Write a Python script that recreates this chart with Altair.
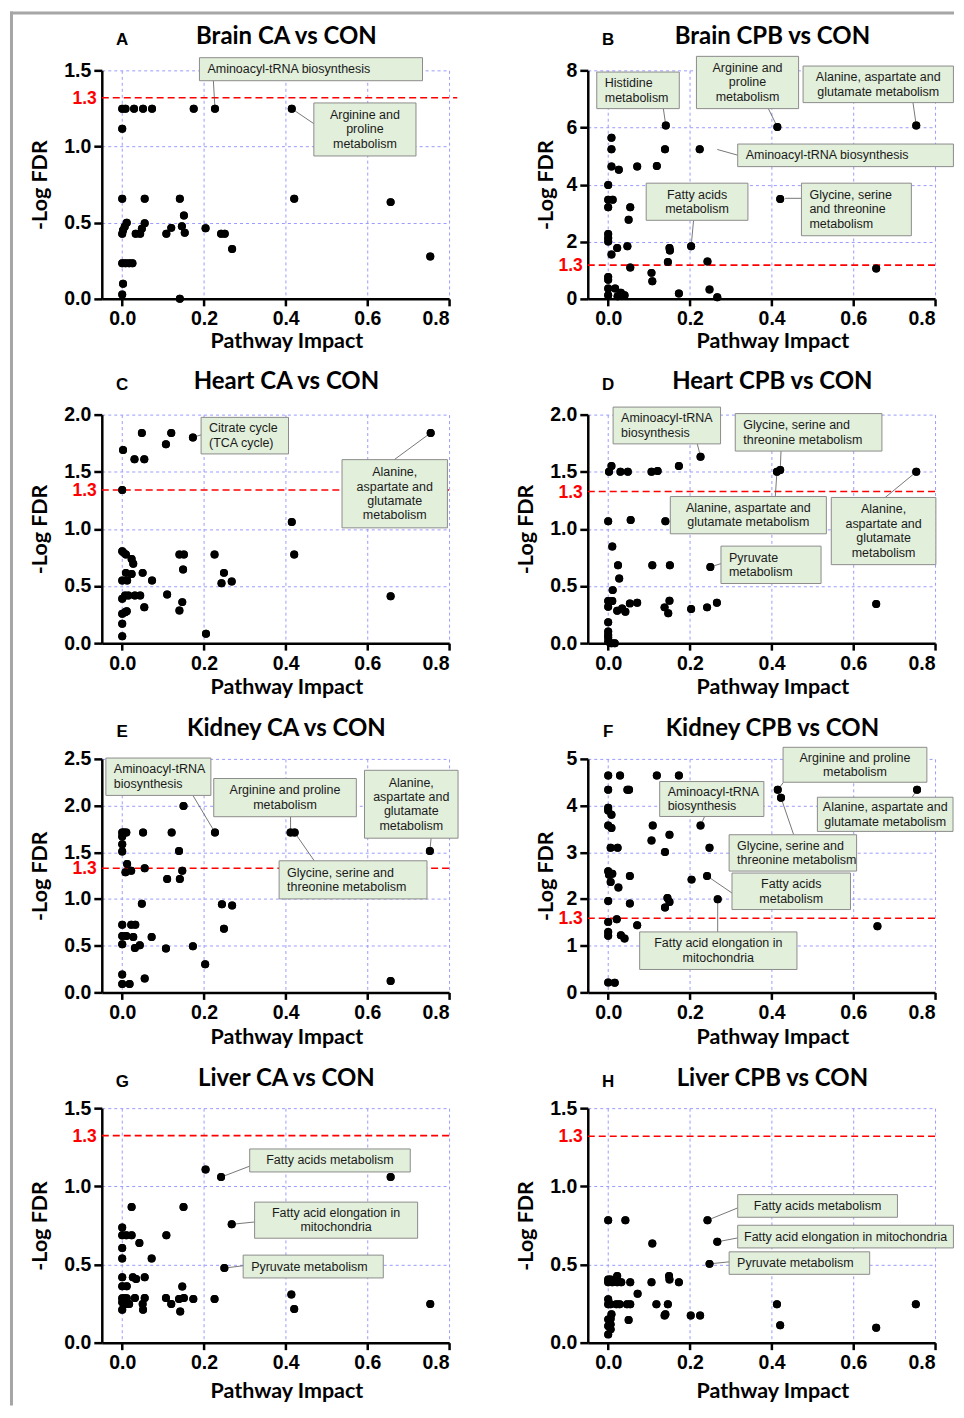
import altair as alt
import pandas as pd

# ---------------- data ----------------
brain_ca_x = [0, 0.008, 0.029, 0.051, 0.073, 0.175, 0.227, 0.415, 0, 0, 0.055, 0.141, 0.421, 0.657, 0.151,
              0, 0.002, 0.006, 0.011, 0.033, 0.044, 0.048, 0.055, 0.108, 0.12, 0.146, 0.153, 0.204, 0.242,
              0.251, 0.269, 0.754, 0, 0.008, 0.017, 0.025, 0.002, 0, 0.141]
brain_ca_y = [1.248, 1.248, 1.248, 1.248, 1.248, 1.248, 1.248, 1.248, 1.117, 0.657, 0.657, 0.657, 0.657, 0.635, 0.547,
              0.427, 0.45, 0.473, 0.5, 0.427, 0.427, 0.46, 0.497, 0.427, 0.466, 0.477, 0.434, 0.464, 0.427,
              0.427, 0.328, 0.278, 0.234, 0.234, 0.234, 0.234, 0.099, 0.028, 0.0]

brain_cpb_x = [0.141, 0.414, 0.754, 0.008, 0.008, 0.139, 0.224, 0.008, 0.026, 0.071, 0.119,
               0, 0, 0.011, 0, 0.054, 0.05, 0.421,
               0, 0, 0, 0.022, 0.008, 0.047, 0.054, 0.15, 0.151, 0.203, 0.146, 0.243, 0.106, 0.108, 0.656,
               0, 0, 0, 0.017, 0.031, 0.04, 0.023, 0, 0.173, 0.248, 0.267]
brain_cpb_y = [6.07, 6.02, 6.07, 5.64, 5.24, 5.24, 5.24, 4.63, 4.52, 4.63, 4.65,
               3.99, 3.47, 3.47, 3.21, 3.21, 2.77, 3.5,
               2.27, 2.13, 2.01, 1.78, 1.55, 1.84, 1.10, 1.78, 1.69, 1.84, 1.29, 1.31, 0.91, 0.62, 1.06,
               0.77, 0.67, 0.36, 0.36, 0.21, 0.13, 0.09, 0.13, 0.19, 0.33, 0.06]

heart_ca_x = [0.048, 0.12, 0.107, 0.173, 0.002, 0.03, 0.054, 0.755, 0,
              0.415, 0.421, 0.657, 0.205,
              0, 0.004, 0.009, 0.023, 0.027,
              0.009, 0.023, 0.05, 0, 0.012, 0.073,
              0, 0.007, 0.015, 0.031, 0.044, 0.11, 0.054,
              0, 0.007, 0.011, 0, 0,
              0.14, 0.151, 0.149, 0.147, 0.14,
              0.226, 0.249, 0.243, 0.268]
heart_ca_y = [1.84, 1.84, 1.74, 1.80, 1.69, 1.61, 1.61, 1.84, 1.34,
              1.06, 0.776, 0.411, 0.082,
              0.805, 0.79, 0.776, 0.737, 0.694,
              0.615, 0.606, 0.615, 0.548, 0.548, 0.548,
              0.388, 0.417, 0.417, 0.417, 0.417, 0.426, 0.315,
              0.257, 0.271, 0.28, 0.169, 0.061,
              0.776, 0.776, 0.644, 0.359, 0.286,
              0.776, 0.615, 0.525, 0.539]

heart_cpb_x = [0.226, 0.173, 0.002, 0.008, 0.03, 0.048, 0.106, 0.121, 0.413, 0.421, 0.754,
               0, 0.055, 0.14, 0.01, 0.024, 0.108, 0.151, 0.25, 0.027, 0.011,
               0, 0.01, 0, 0.022, 0.034, 0.042, 0.053, 0.071,
               0.138, 0.15, 0.147, 0.203, 0.242, 0.266, 0.656,
               0, 0, 0, 0, 0, 0.008, 0.016]
heart_cpb_y = [1.632, 1.551, 1.499, 1.551, 1.499, 1.499, 1.499, 1.507, 1.499, 1.516, 1.499,
               1.067, 1.078, 1.067, 0.846, 0.681, 0.681, 0.681, 0.667, 0.565, 0.464,
               0.368, 0.368, 0.319, 0.284, 0.304, 0.275, 0.348, 0.354,
               0.313, 0.371, 0.261, 0.299, 0.313, 0.354, 0.342,
               0.183, 0.101, 0.072, 0.049, 0.014, 0.0, 0.0]

kidney_ca_x = [0.15, 0.227, 0, 0.004, 0.01, 0, 0, 0, 0.051, 0.121, 0.139, 0.412, 0.422, 0.753,
               0.012, 0.008, 0.022, 0.055, 0.147, 0.11, 0.141,
               0.048, 0.244, 0.269, 0.249,
               0, 0.022, 0.032, 0, 0.01, 0.027, 0, 0.031, 0.043, 0.072, 0.107, 0.173, 0.203,
               0, 0, 0.018, 0.055, 0.657]
kidney_ca_y = [1.996, 1.712, 1.712, 1.712, 1.712, 1.669, 1.587, 1.509, 1.712, 1.712, 1.513, 1.712, 1.712, 1.513,
               1.374, 1.286, 1.303, 1.328, 1.303, 1.214, 1.214,
               0.948, 0.945, 0.93, 0.682,
               0.724, 0.724, 0.724, 0.604, 0.604, 0.593, 0.515, 0.476, 0.504, 0.593, 0.469, 0.494, 0.302,
               0.192, 0.089, 0.089, 0.149, 0.121]

kidney_cpb_x = [0, 0.029, 0.119, 0.173, 0, 0.047, 0.051, 0.415, 0.423, 0.756,
                0, 0, 0.008, 0, 0.008, 0.109, 0.226, 0.15, 0.106, 0.006, 0.023, 0.139, 0.248,
                0, 0.002, 0.01, 0.006, 0.053, 0.025, 0.204, 0.242,
                0, 0.053, 0.145, 0.15, 0.139, 0.268,
                0, 0.021, 0.071, 0, 0, 0.031, 0.04, 0.659,
                0, 0.016]
kidney_cpb_y = [4.644, 4.644, 4.644, 4.644, 4.338, 4.338, 4.338, 4.338, 4.167, 4.338,
                3.953, 3.896, 3.803, 3.575, 3.519, 3.575, 3.575, 3.376, 3.255, 3.098, 3.098, 3.006, 3.098,
                2.593, 2.521, 2.543, 2.365, 2.493, 2.244, 2.415, 2.493,
                1.959, 1.902, 2.023, 1.937, 1.816, 1.994,
                1.51, 1.567, 1.439, 1.296, 1.211, 1.225, 1.154, 1.417,
                0.214, 0.207]

liver_ca_x = [0.204, 0.242, 0.657, 0.023, 0.15, 0, 0, 0.01, 0.023, 0.108, 0.268, 0.042, 0, 0, 0.072, 0.25,
              0, 0.026, 0.034, 0.055, 0, 0.011, 0.147, 0, 0.006, 0.011, 0.031, 0.055, 0, 0.011, 0.017, 0,
              0.05, 0.051, 0.107, 0.12, 0.139, 0.151, 0.174, 0.142, 0.226, 0.414, 0.421, 0.754]
liver_ca_y = [1.108, 1.059, 1.059, 0.868, 0.868, 0.736, 0.687, 0.687, 0.687, 0.687, 0.757, 0.637, 0.605, 0.539, 0.539, 0.477,
              0.418, 0.418, 0.407, 0.418, 0.361, 0.361, 0.359, 0.284, 0.284, 0.284, 0.286, 0.286, 0.259, 0.248, 0.248, 0.21,
              0.248, 0.21, 0.286, 0.248, 0.28, 0.286, 0.28, 0.199, 0.28, 0.308, 0.216, 0.248]

liver_cpb_x = [0, 0.042, 0.243, 0.267, 0.108, 0.248,
               0, 0.006, 0.022, 0.032, 0.054, 0.072,
               0, 0.01, 0.022, 0.106, 0.149, 0.15, 0.173,
               0, 0, 0.006, 0.02, 0.028, 0.046, 0.054, 0.118, 0.146,
               0.14, 0.138, 0.202, 0.225,
               0.008, 0.006, 0, 0.006, 0, 0.006, 0,
               0.05, 0.413, 0.421, 0.656, 0.753]
liver_cpb_y = [0.783, 0.783, 0.783, 0.645, 0.634, 0.504,
               0.404, 0.404, 0.426, 0.387, 0.387, 0.313,
               0.387, 0.387, 0.387, 0.387, 0.426, 0.404, 0.387,
               0.277, 0.245, 0.245, 0.245, 0.245, 0.245, 0.245, 0.245, 0.245,
               0.181, 0.174, 0.174, 0.174,
               0.181, 0.153, 0.149, 0.117, 0.106, 0.085, 0.053,
               0.145, 0.245, 0.111, 0.096, 0.245]

# threshold line (-log10 FDR = 1.3) as drawn in each panel
thresholds = [1.32, 1.18, 1.34, 1.327, 1.33, 1.588, 1.324, 1.32]
threshold_ends = [0.82, 0.8, 0.81, 0.8, 0.8, 0.8, 0.8, 0.8]

panel_letters = ["A", "B", "C", "D", "E", "F", "G", "H"]
panel_titles = ["Brain CA vs CON", "Brain CPB vs CON", "Heart CA vs CON", "Heart CPB vs CON",
                "Kidney CA vs CON", "Kidney CPB vs CON", "Liver CA vs CON", "Liver CPB vs CON"]
y_max = [1.5, 8, 2.0, 2.0, 2.5, 5, 1.5, 1.5]
y_ticks = [[0, 0.5, 1.0, 1.5], [0, 2, 4, 6, 8], [0, 0.5, 1.0, 1.5, 2.0], [0, 0.5, 1.0, 1.5, 2.0],
           [0, 0.5, 1.0, 1.5, 2.0, 2.5], [0, 1, 2, 3, 4, 5], [0, 0.5, 1.0, 1.5], [0, 0.5, 1.0, 1.5]]
y_formats = [".1f", "d", ".1f", ".1f", ".1f", "d", ".1f", ".1f"]
x_ticks = [0, 0.2, 0.4, 0.6, 0.8]

# annotation boxes: (label, x1, x2, y1, y2, text alignment)
boxes = [
    [("Aminoacyl-tRNA biosynthesis", 0.189, 0.735, 1.432, 1.583, "left"),
     ("Arginine and\nproline\nmetabolism", 0.469, 0.719, 0.938, 1.286, "center")],
    [("Histidine\nmetabolism", -0.028, 0.174, 6.66, 7.94, "left"),
     ("Arginine and\nproline\nmetabolism", 0.216, 0.466, 6.66, 8.49, "center"),
     ("Alanine, aspartate and\nglutamate metabolism", 0.477, 0.845, 6.87, 8.15, "center"),
     ("Aminoacyl-tRNA biosynthesis", 0.317, 0.845, 4.63, 5.42, "left"),
     ("Fatty acids\nmetabolism", 0.093, 0.342, 2.75, 4.05, "center"),
     ("Glycine, serine\nand threonine\nmetabolism", 0.473, 0.742, 2.21, 4.05, "left")],
    [("Citrate cycle\n(TCA cycle)", 0.193, 0.407, 1.656, 1.976, "left"),
     ("Alanine,\naspartate and\nglutamate\nmetabolism", 0.538, 0.796, 1.009, 1.606, "center")],
    [("Aminoacyl-tRNA\nbiosynthesis", 0.012, 0.275, 1.744, 2.066, "left"),
     ("Glycine, serine and\nthreonine metabolism", 0.311, 0.67, 1.681, 2.009, "left"),
     ("Alanine, aspartate and\nglutamate metabolism", 0.152, 0.534, 0.957, 1.283, "center"),
     ("Alanine,\naspartate and\nglutamate\nmetabolism", 0.546, 0.802, 0.687, 1.275, "center"),
     ("Pyruvate\nmetabolism", 0.276, 0.521, 0.522, 0.849, "left")],
    [("Aminoacyl-tRNA\nbiosynthesis", -0.04, 0.217, 2.109, 2.509, "left"),
     ("Arginine and proline\nmetabolism", 0.224, 0.573, 1.881, 2.29, "center"),
     ("Alanine,\naspartate and\nglutamate\nmetabolism", 0.593, 0.822, 1.651, 2.378, "center"),
     ("Glycine, serine and\nthreonine metabolism", 0.384, 0.746, 1.001, 1.409, "left")],
    [("Arginine and proline\nmetabolism", 0.428, 0.78, 4.5, 5.248, "center"),
     ("Aminoacyl-tRNA\nbiosynthesis", 0.126, 0.381, 3.767, 4.515, "left"),
     ("Alanine, aspartate and\nglutamate metabolism", 0.512, 0.844, 3.447, 4.179, "center"),
     ("Glycine, serine and\nthreonine metabolism", 0.296, 0.608, 2.598, 3.376, "left"),
     ("Fatty acids\nmetabolism", 0.303, 0.593, 1.774, 2.556, "center"),
     ("Fatty acid elongation in\nmitochondria", 0.077, 0.462, 0.491, 1.295, "center")],
    [("Fatty acids metabolism", 0.312, 0.705, 1.092, 1.239, "center"),
     ("Fatty acid elongation in\nmitochondria", 0.324, 0.723, 0.668, 0.899, "center"),
     ("Pyruvate metabolism", 0.296, 0.639, 0.414, 0.56, "left")],
    [("Fatty acids metabolism", 0.317, 0.708, 0.802, 0.947, "center"),
     ("Fatty acid elongation in mitochondria", 0.317, 0.845, 0.606, 0.751, "center"),
     ("Pyruvate metabolism", 0.296, 0.64, 0.437, 0.581, "left")],
]

# leader lines: (x1, y1, x2, y2)
links = [
    [(0.223, 1.436, 0.227, 1.248), (0.415, 1.248, 0.469, 1.15)],
    [(0.135, 6.66, 0.141, 6.07), (0.392, 6.66, 0.414, 6.02), (0.746, 6.87, 0.754, 6.07),
     (0.267, 5.23, 0.317, 5.03), (0.209, 2.75, 0.203, 1.84), (0.433, 3.52, 0.473, 3.52)],
    [(0.193, 1.823, 0.173, 1.80), (0.666, 1.606, 0.755, 1.84)],
    [(0.218, 1.744, 0.226, 1.632), (0.423, 1.681, 0.421, 1.516), (0.409, 1.283, 0.413, 1.499),
     (0.678, 1.275, 0.754, 1.499), (0.276, 0.696, 0.25, 0.667)],
    [(0.173, 2.109, 0.227, 1.712), (0.412, 1.881, 0.412, 1.712), (0.756, 1.651, 0.753, 1.513),
     (0.47, 1.409, 0.422, 1.712)],
    [(0.429, 4.5, 0.415, 4.338), (0.236, 3.767, 0.226, 3.575), (0.744, 4.18, 0.756, 4.338),
     (0.454, 3.376, 0.423, 4.167), (0.303, 2.128, 0.242, 2.493), (0.268, 1.295, 0.268, 1.994)],
    [(0.312, 1.129, 0.242, 1.059), (0.324, 0.772, 0.268, 0.757), (0.296, 0.492, 0.25, 0.477)],
    [(0.317, 0.862, 0.243, 0.783), (0.317, 0.67, 0.267, 0.645), (0.296, 0.517, 0.248, 0.504)],
]

series_x = [brain_ca_x, brain_cpb_x, heart_ca_x, heart_cpb_x, kidney_ca_x, kidney_cpb_x, liver_ca_x, liver_cpb_x]
series_y = [brain_ca_y, brain_cpb_y, heart_ca_y, heart_cpb_y, kidney_ca_y, kidney_cpb_y, liver_ca_y, liver_cpb_y]

# ---------------- layout / style ----------------
W = 348
heights = [229, 229, 229, 229, 234, 234, 235, 235]
ytitle_x = [-61, -41, -61, -61, -61, -41, -61, -61]
xtitle_y = [49, 49, 50, 50, 51, 51, 55, 55]
head_y = [-26, -26, -26, -26, -23, -23, -22, -22]
X_MIN = -0.05
LABEL_FONT = "Liberation Sans"
TITLE_FONT = "Lato"
BOX_FONT = "Liberation Sans"
BOX_FS = 12.5
BOX_LH = 14.5


def panel(i):
    H = heights[i]
    xs = alt.Scale(domain=[X_MIN, 0.8], nice=False, zero=False)
    ys = alt.Scale(domain=[0, y_max[i]], nice=False, zero=False)

    xaxis = alt.Axis(values=x_ticks, format=".1f", title="Pathway Impact",
                     titleX=W / 2 + 11, titleY=xtitle_y[i], titleBaseline="alphabetic", titleAlign="center")
    yaxis = alt.Axis(values=y_ticks[i], format=y_formats[i], title="-Log FDR",
                     titleX=ytitle_x[i], titleY=H / 2, titleAngle=270,
                     titleAlign="center", titleBaseline="middle")

    def X(f):
        return alt.X(f, scale=xs, axis=xaxis)

    def Y(f):
        return alt.Y(f, scale=ys, axis=yaxis)

    pts = pd.DataFrame({"x": series_x[i], "y": series_y[i]})
    points = alt.Chart(pts).mark_circle(size=64, color="black", opacity=1).encode(
        x=X("x:Q"), y=Y("y:Q"))

    thr = pd.DataFrame({"x": [X_MIN], "x2": [threshold_ends[i]], "y": [thresholds[i]], "lab": ["1.3"]})
    thr_line = alt.Chart(thr).mark_rule(color="#ff0000", strokeDash=[7, 4], strokeWidth=1.6).encode(
        x=X("x:Q"), x2="x2:Q", y=Y("y:Q"))
    thr_lab = alt.Chart(thr).mark_text(align="right", baseline="middle", dx=-5, dy=1, color="#ff0000",
                                       fontSize=17.5, fontWeight="bold", font=LABEL_FONT).encode(
        x=X("x:Q"), y=Y("y:Q"), text="lab:N")

    b = pd.DataFrame(boxes[i], columns=["label", "x1", "x2", "y1", "y2", "align"])
    nlines = b["label"].str.count("\n")
    per_px = y_max[i] / H
    b["xc"] = (b["x1"] + b["x2"]) / 2
    b["yt"] = (b["y1"] + b["y2"]) / 2 + nlines * BOX_LH / 2 * per_px
    rects = alt.Chart(b).mark_rect(fill="#e2efda", stroke="#8c8c8c", strokeWidth=1).encode(
        x=X("x1:Q"), x2="x2:Q", y=Y("y1:Q"), y2="y2:Q")
    txt_c = alt.Chart(b[b["align"] == "center"]).mark_text(
        align="center", baseline="middle", lineBreak="\n", font=BOX_FONT, fontSize=BOX_FS,
        lineHeight=BOX_LH, color="#1a1a1a").encode(
        x=X("xc:Q"), y=Y("yt:Q"), text="label:N")
    txt_l = alt.Chart(b[b["align"] == "left"]).mark_text(
        align="left", baseline="middle", dx=8, lineBreak="\n", font=BOX_FONT, fontSize=BOX_FS,
        lineHeight=BOX_LH, color="#1a1a1a").encode(
        x=X("x1:Q"), y=Y("yt:Q"), text="label:N")

    l = pd.DataFrame(links[i], columns=["x1", "y1", "x2", "y2"])
    leaders = alt.Chart(l).mark_rule(color="#555555", strokeWidth=0.8).encode(
        x=X("x1:Q"), x2="x2:Q", y=Y("y1:Q"), y2="y2:Q")

    head = pd.DataFrame({"letter": [panel_letters[i]], "title": [panel_titles[i]], "x0": [0.0]})
    letter = alt.Chart(head).mark_text(align="center", baseline="alphabetic", font=LABEL_FONT,
                                       fontSize=17, fontWeight="bold", color="black").encode(
        x=X("x0:Q"), y=alt.value(head_y[i] + 1), text="letter:N")
    title = alt.Chart(head).mark_text(align="center", baseline="alphabetic", font=TITLE_FONT,
                                      fontSize=24, fontWeight="bold", color="black").encode(
        x=alt.value(W / 2 + 11), y=alt.value(head_y[i]), text="title:N")

    layers = [points, thr_line, thr_lab, leaders, rects, txt_c, txt_l, letter, title, points]

    if i == 0:
        frame_df = pd.DataFrame({"k": [0]})
        left_edge = alt.Chart(frame_df).mark_rule(color="#a6a6a6", strokeWidth=3).encode(
            x=alt.value(-90.5), y=alt.value(-59), y2=alt.value(1338))
        top_edge = alt.Chart(frame_df).mark_rule(color="#a6a6a6", strokeWidth=3).encode(
            x=alt.value(-92), x2=alt.value(854), y=alt.value(-57.5))
        layers = layers + [left_edge, top_edge]

    return alt.layer(*layers).properties(width=W, height=H)


chart = alt.concat(*[panel(i) for i in range(8)], columns=2,
                   spacing={"row": 116, "column": 139}, bounds="flush").properties(
    padding={"left": 0, "top": 0, "right": 0, "bottom": 0}
).configure_view(stroke=None).configure_axis(
    grid=True, gridColor="#9b9bff", gridDash=[3, 3], gridWidth=1,
    domainColor="black", domainWidth=2.5, tickColor="black", tickWidth=2.5, tickSize=7,
    labelFont=LABEL_FONT, labelFontSize=19.5, labelFontWeight="bold", labelColor="black",
    labelPadding=4,
    titleFont=TITLE_FONT, titleFontSize=21.5, titleFontWeight="bold", titleColor="black",
).configure_axisY(labelPadding=3, tickSize=8)

chart.save("out.html", embed_options={"renderer": "svg", "actions": False})
